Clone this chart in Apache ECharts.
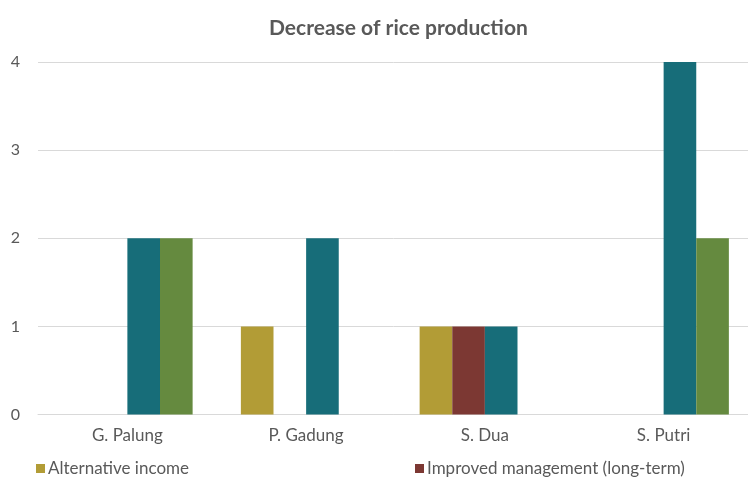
<!DOCTYPE html>
<html>
<head>
<meta charset="utf-8">
<script src="https://cdn.jsdelivr.net/npm/echarts@6/dist/echarts.min.js"></script>
<style>
  html, body { margin: 0; padding: 0; background: #fff; }
  #chart { width: 748px; height: 477px; }
</style>
</head>
<body>
<div id="chart"></div>
<script>
const categories = ['G. Palung', 'P. Gadung', 'S. Dua', 'S. Putri']
const alternativeIncome = [0, 1, 1, 0]
const improvedManagement = [0, 0, 1, 0]
const series3 = [2, 2, 1, 4]
const series4 = [2, 0, 0, 2]
const yTicks = [0, 1, 2, 3, 4]

const textColor = '#595959'
const font = 'Lato, "Open Sans", sans-serif'

const chart = echarts.init(document.getElementById('chart'), null, { renderer: 'canvas' })

const option = {
  animation: false,
  backgroundColor: '#fff',
  title: {
    text: 'Decrease of rice production',
    left: 264,
    top: 13,
    textStyle: { fontFamily: font, fontSize: 21, fontWeight: 'bold', color: textColor }
  },
  legend: [
    {
      data: ['Alternative income'],
      left: 31,
      top: 455,
      icon: 'rect',
      itemWidth: 9,
      itemHeight: 9,
      textStyle: { fontFamily: font, fontSize: 17, color: textColor, padding: [0, 0, 0, -2] }
    },
    {
      data: ['Improved management (long-term)'],
      left: 410,
      top: 455,
      icon: 'rect',
      itemWidth: 9,
      itemHeight: 9,
      textStyle: { fontFamily: font, fontSize: 17, color: textColor, padding: [0, 0, 0, -2] }
    }
  ],
  // plot runs a little past the right edge, as in the cropped original
  grid: { left: 38, top: 62, width: 715, height: 352.5, containLabel: false, outerBoundsMode: 'none' },
  xAxis: {
    type: 'category',
    data: categories,
    axisTick: { show: false },
    axisLine: { lineStyle: { color: '#D9D9D9', width: 1 } },
    axisLabel: { fontFamily: font, fontSize: 17, color: textColor, margin: 13 }
  },
  yAxis: {
    type: 'value',
    min: yTicks[0],
    max: yTicks[yTicks.length - 1],
    interval: 1,
    axisLine: { show: false },
    axisTick: { show: false },
    splitLine: { lineStyle: { color: '#D9D9D9', width: 1 } },
    axisLabel: { fontFamily: font, fontSize: 16, color: textColor, margin: 18 }
  },
  series: [
    { name: 'Alternative income', type: 'bar', data: alternativeIncome, itemStyle: { color: '#B29C36' }, barGap: '0%', barCategoryGap: '27%' },
    { name: 'Improved management (long-term)', type: 'bar', data: improvedManagement, itemStyle: { color: '#7C3833' } },
    { name: 'Series 3', type: 'bar', data: series3, itemStyle: { color: '#176D79' } },
    { name: 'Series 4', type: 'bar', data: series4, itemStyle: { color: '#658A3F' } }
  ]
}

chart.setOption(option)
</script>
</body>
</html>
